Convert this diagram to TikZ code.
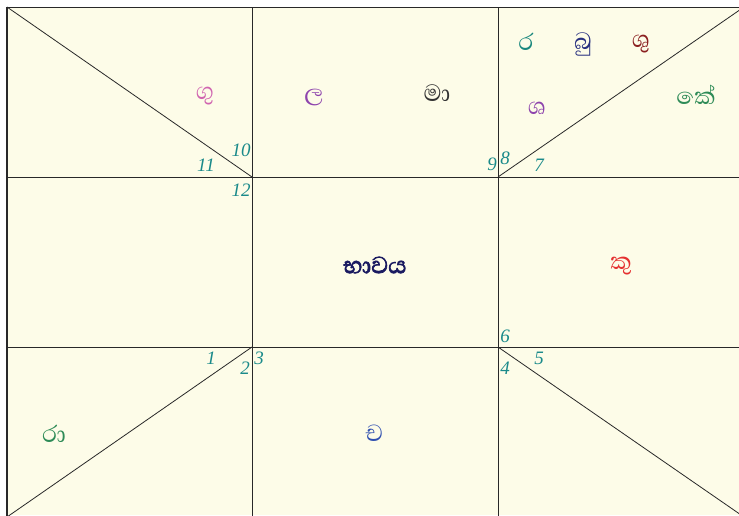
\documentclass[tikz,border=0pt]{standalone}
\usepackage{fontspec}
\setmainfont{Liberation Serif}
\newfontfamily\sinhfont[Script=Sinhala]{Abhaya Libre}
\newfontfamily\sinhboldfont[Script=Sinhala,FakeBold=2.5]{Abhaya Libre}
\definecolor{bgc}{RGB}{253,252,232}
\definecolor{numc}{RGB}{26,138,138}
\definecolor{gupink}{RGB}{208,100,176}
\definecolor{lpurp}{RGB}{142,68,173}
\definecolor{madark}{RGB}{50,50,50}
\definecolor{rteal}{RGB}{26,135,125}
\definecolor{bunavy}{RGB}{40,48,128}
\definecolor{shured}{RGB}{139,32,32}
\definecolor{kegreen}{RGB}{46,139,87}
\definecolor{bhnavy}{RGB}{26,26,96}
\definecolor{kured}{RGB}{229,48,48}
\definecolor{chblue}{RGB}{48,80,176}
\definecolor{linec}{RGB}{40,40,40}
\tikzset{
  gridline/.style={draw=linec,line width=0.8pt},
  housenum/.style={text=numc,font=\fontsize{19}{19}\selectfont\itshape,inner sep=0pt},
  planet/.style={font=\sinhfont\fontsize{30}{30}\selectfont,inner sep=0pt},
}
\begin{document}
\begin{tikzpicture}[x=1pt,y=-1pt]
\useasboundingbox (0,0) rectangle (739,515);
\fill[bgc] (7,7) rectangle (739,515);
\begin{scope}
\clip (0,0) rectangle (739,515);
% grid corners
\coordinate (a0) at (7,7);   \coordinate (a1) at (252,7);   \coordinate (a2) at (498,7);   \coordinate (a3) at (744,7);
\coordinate (b0) at (7,177); \coordinate (b1) at (252,177); \coordinate (b2) at (498,177); \coordinate (b3) at (744,177);
\coordinate (c0) at (7,347); \coordinate (c1) at (252,347); \coordinate (c2) at (498,347); \coordinate (c3) at (744,347);
\coordinate (d0) at (7,517); \coordinate (d1) at (252,517); \coordinate (d2) at (498,517); \coordinate (d3) at (744,517);
\draw[gridline] (a0) -- (a3);
\draw[gridline] (b0) -- (b3);
\draw[gridline] (c0) -- (c3);
\draw[gridline] (d0) -- (d3);
\draw[gridline] (a1) -- (d1);
\draw[gridline] (a2) -- (d2);
\draw[gridline] (a3) -- (d3);
\draw[gridline] (a0) -- (b1);
\draw[gridline] (b2) -- (a3);
\draw[gridline] (c1) -- (d0);
\draw[gridline] (c2) -- (d3);
\draw[draw=linec,line width=2.2pt] (a0) -- (d0);
\end{scope}
% house numbers
\node[housenum] (n10) at (241,150) {10};
\node[housenum] (n11) at (206,165) {11};
\node[housenum] (n12) at (241,190) {12};
\node[housenum] (n9) at (492,164) {9};
\node[housenum] (n8) at (505,158) {8};
\node[housenum] (n7) at (539,165) {7};
\node[housenum] (n6) at (505,336) {6};
\node[housenum] (n5) at (539,358) {5};
\node[housenum] (n4) at (505,368) {4};
\node[housenum] (n1) at (211,358) {1};
\node[housenum] (n2) at (245,368) {2};
\node[housenum] (n3) at (259,358) {3};
% planets
\node[planet,text=gupink] (gu) at (205,96) {ගු};
\node[planet,text=lpurp] (la) at (314,98) {ල};
\node[planet,text=madark] (ma) at (437,93) {මා};
\node[planet,text=rteal] (ra) at (526,42) {ර};
\node[planet,text=bunavy] (bu) at (583,44) {බු};
\node[planet,text=shured] (shu) at (641,44) {ශු};
\node[planet,text=lpurp] (sha) at (537,108) {ශ};
\node[planet,text=kegreen] (ke) at (696,95) {කේ};
\node[planet,text=bhnavy,font=\sinhboldfont\fontsize{30}{30}\selectfont] (bhava) at (375,265) {භාවය};
\node[planet,text=kured] (ku) at (621,266) {කු};
\node[planet,text=kegreen] (rahu) at (54,434) {රා};
\node[planet,text=chblue] (cha) at (374,433) {ච};
\end{tikzpicture}
\end{document}
